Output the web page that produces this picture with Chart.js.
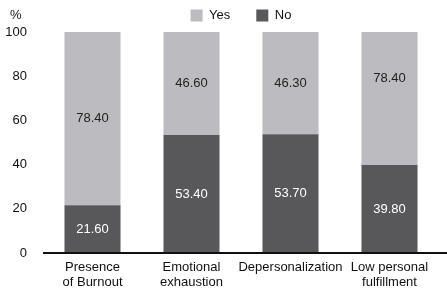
<!DOCTYPE html>
<html><head><meta charset="utf-8">
<script src="https://cdn.jsdelivr.net/npm/chart.js@4"></script>
<style>html,body{margin:0;padding:0;background:#fff}#wrap{width:447px;height:290px}</style>
</head><body><div id="wrap"><canvas id="c" width="447" height="290"></canvas></div>
<script>
const categories = [["Presence","of Burnout"],["Emotional","exhaustion"],["Depersonalization"],["Low personal","fulfillment"]];
const noValues = [21.60, 53.40, 53.70, 39.80];
const yesValues = [78.40, 46.60, 46.30, 78.40];
const yTicks = [0, 20, 40, 60, 80, 100];
const FONT = "'Liberation Sans', Arial, sans-serif";

const labelPlugin = {
  id: 'labels',
  afterDatasetsDraw(chart) {
    const ctx = chart.ctx;
    ctx.save();
    ctx.font = "13px " + FONT;
    ctx.textAlign = 'center';
    ctx.textBaseline = 'middle';
    chart.data.datasets.forEach((ds, di) => {
      const meta = chart.getDatasetMeta(di);
      meta.data.forEach((bar, i) => {
        const mid = (bar.y + bar.base) / 2;
        ctx.fillStyle = ds.label === 'No' ? '#ffffff' : '#222222';
        ctx.fillText(ds.data[i].toFixed(2), bar.x, mid);
      });
    });
    const a = chart.chartArea;
    const y0 = chart.scales.y.getPixelForValue(0);
    ctx.strokeStyle = '#111';
    ctx.lineWidth = 2;
    ctx.beginPath();
    ctx.moveTo(a.left, y0);
    ctx.lineTo(chart.width, y0);
    ctx.stroke();
    ctx.fillStyle = '#111';
    ctx.textAlign = 'left';
    ctx.fillText('%', chart.scales.y.left + 5, 15);
    ctx.restore();
  }
};

new Chart(document.getElementById('c'), {
  type: 'bar',
  data: {
    labels: categories,
    datasets: [
      { label: 'No', data: noValues, backgroundColor: '#58585a' },
      { label: 'Yes', data: yesValues, backgroundColor: '#bcbcc0' }
    ]
  },
  options: {
    responsive: false,
    animation: false,
    devicePixelRatio: 1,
    layout: { padding: { left: 5, right: 8, top: -17, bottom: -7 } },
    datasets: { bar: { categoryPercentage: 1, barPercentage: 0.566 } },
    plugins: {
      legend: {
        position: 'top',
        fullSize: false,
        reverse: true,
        labels: {
          boxWidth: 12, boxHeight: 12, padding: 26, color: '#111',
          font: { family: FONT, size: 13 }
        }
      },
      tooltip: { enabled: false }
    },
    scales: {
      x: {
        stacked: true,
        afterFit(s) { s.paddingLeft = 0; s.paddingRight = 0; },
        grid: { display: false, drawTicks: false },
        border: { display: false },
        ticks: { color: '#111', font: { family: FONT, size: 13, lineHeight: 1.15 }, padding: 7, maxRotation: 0, autoSkip: false }
      },
      y: {
        stacked: true,
        min: 0, max: 100,
        afterBuildTicks(s) { s.ticks = yTicks.map(v => ({ value: v })); },
        afterFit(s) { s.width = 38; },
        grid: { display: false, drawTicks: false },
        border: { display: false },
        ticks: { color: '#111', font: { family: FONT, size: 13 }, padding: 16 }
      }
    }
  },
  plugins: [labelPlugin]
});
</script></body></html>
